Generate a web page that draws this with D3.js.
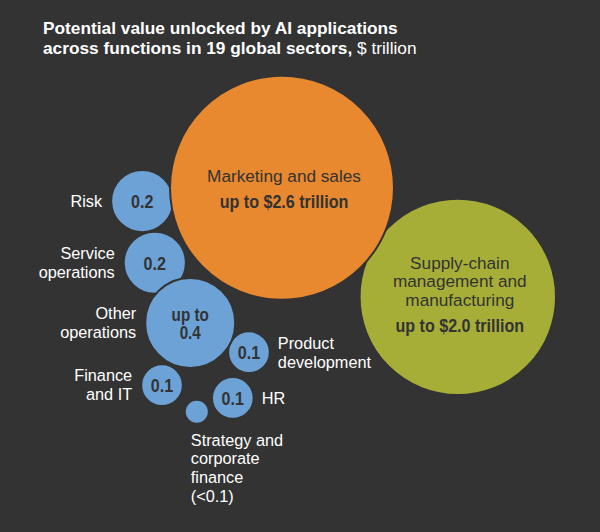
<!DOCTYPE html>
<html>
<head>
<meta charset="utf-8">
<script src="https://cdn.jsdelivr.net/npm/d3@7"></script>
<style>
  html, body { margin: 0; padding: 0; background: #333333; }
  svg { display: block; }
</style>
</head>
<body>
<div id="chart"></div>
<script>
// ---- data ----
const functions = ["Marketing and sales", "Supply-chain management and manufacturing", "Risk", "Service operations", "Other operations", "Product development", "Finance and IT", "HR", "Strategy and corporate finance"];
const values = [2.6, 2.0, 0.2, 0.2, 0.42, 0.09, 0.09, 0.09, 0.03];
const valueLabels = [["up to $2.6 trillion"], ["up to $2.0 trillion"], ["0.2"], ["0.2"], ["up to", "0.4"], ["0.1"], ["0.1"], ["0.1"], []];
const nameLines = [["Marketing and sales"], ["Supply-chain", "management and", "manufacturing"], ["Risk"], ["Service", "operations"], ["Other", "operations"], ["Product", "development"], ["Finance", "and IT"], ["HR"], ["Strategy and", "corporate", "finance", "(<0.1)"]];
const group = ["orange", "green", "blue", "blue", "blue", "blue", "blue", "blue", "blue"];

// ---- layout (bubble centres in layout units 0-100) ----
const layoutX = [47.0, 76.3, 23.7, 25.8, 31.7, 41.5, 27.0, 38.8, 32.8];
const layoutY = [35.3, 55.8, 37.8, 49.4, 60.7, 66.2, 72.4, 74.8, 77.4];
// label placement: side of bubble ("in", "left", "right", "below")
const labelSide = ["in", "in", "left", "left", "left", "right", "left", "right", "below"];

const W = 600, H = 532;
const colors = { orange: "#E8882F", green: "#A7AE38", blue: "#6CA2D6" };
const bg = "#333333";
const darkText = "#333333";
const sansFont = "'Liberation Sans', Arial, Helvetica, sans-serif";
const narrowScale = 0.87;

const x = d3.scaleLinear().domain([0, 100]).range([0, W]);
const y = d3.scaleLinear().domain([0, 100]).range([0, H]);
const r = d3.scaleSqrt().domain([0, 2.6]).range([0, 112]);

const svg = d3.select("#chart").append("svg")
  .attr("width", W).attr("height", H)
  .style("background", bg);

// title
const title = svg.append("text")
  .attr("fill", "#ffffff")
  .style("font-family", sansFont)
  .style("font-size", "17.3px");
title.append("tspan").attr("x", 43).attr("y", 34).style("font-weight", "bold")
  .text("Potential value unlocked by AI applications");
const t2 = title.append("tspan").attr("x", 43).attr("y", 54);
t2.append("tspan").style("font-weight", "bold").text("across functions in 19 global sectors,");
t2.append("tspan").text(" $ trillion");

const data = functions.map((f, i) => ({
  name: f, value: values[i], vl: valueLabels[i], lines: nameLines[i],
  g: group[i], cx: x(layoutX[i]), cy: y(layoutY[i]), side: labelSide[i]
}));

const order = [8, 7, 6, 5, 3, 2, 4, 1, 0];
svg.append("g").selectAll("circle")
  .data(order.map(i => data[i]))
  .join("circle")
  .attr("cx", d => d.cx)
  .attr("cy", d => d.cy)
  .attr("r", d => r(d.value))
  .attr("fill", d => colors[d.g])
  .attr("stroke", bg)
  .attr("stroke-width", 2);

// condensed bold value text (one text element, lines as tspans)
function narrowText(px, py, lines, size, lh) {
  const t = svg.append("text")
    .attr("transform", `translate(${px},${py}) scale(${narrowScale},1)`)
    .attr("text-anchor", "middle")
    .attr("fill", darkText)
    .style("font-family", sansFont)
    .style("font-weight", "bold")
    .style("font-size", size + "px");
  lines.forEach((ln, k) => {
    t.append("tspan").attr("x", 0).attr("y", k * lh).text(ln);
  });
}

data.forEach(d => {
  const rr = r(d.value);
  if (d.side === "in") {
    const lh = 18.5;
    const n = d.lines.length;
    const startY = d.cy - (n === 1 ? 6 : 28);
    d.lines.forEach((ln, k) => {
      svg.append("text")
        .attr("x", d.cx + 2).attr("y", startY + k * lh)
        .attr("text-anchor", "middle")
        .attr("fill", darkText)
        .style("font-family", sansFont)
        .style("font-size", "17.2px")
        .text(ln);
    });
    narrowText(d.cx + 2, startY + (n - 1) * lh + 26, d.vl, 18.5, 0);
  } else {
    const nv = d.vl.length;
    if (nv) narrowText(d.cx, d.cy + 7 - (nv - 1) * 9, d.vl, nv > 1 ? 17.5 : 18.5, 18);
    const lh = 18.7;
    const n = d.lines.length;
    let tx, anchor, ty0;
    if (d.side === "left") { tx = d.cx - rr - 9; anchor = "end"; ty0 = d.cy + 5.5 - (n - 1) * lh / 2; }
    else if (d.side === "right") { tx = d.cx + rr + 8; anchor = "start"; ty0 = d.cy + 6 - (n - 1) * lh / 2; }
    else { tx = d.cx - rr + 6; anchor = "start"; ty0 = d.cy + rr + 22; }
    d.lines.forEach((ln, k) => {
      svg.append("text")
        .attr("x", tx).attr("y", ty0 + k * lh)
        .attr("text-anchor", anchor)
        .attr("fill", "#ffffff")
        .style("font-family", sansFont)
        .style("font-size", "16.3px")
        .text(ln);
    });
  }
});
</script>
</body>
</html>
